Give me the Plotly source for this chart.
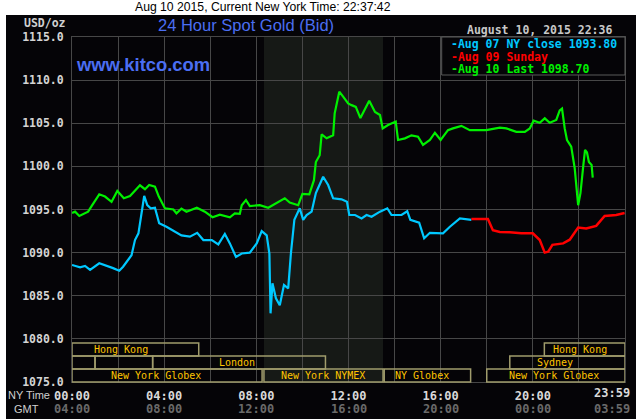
import plotly.graph_objects as go

# ---------------- data ----------------
times_aug07 = ["00:00","00:21","00:34","00:47","01:11","01:34","01:47","02:03","02:13","02:35",
               "02:44","02:53","03:01","03:08","03:16","03:25","03:36","03:47","04:06","04:28",
               "04:45","05:07","05:26","05:42","06:04","06:21","06:38","06:51","07:07","07:22",
               "07:43","08:01","08:14","08:27","08:34","08:37","08:42","08:51","09:01","09:12",
               "09:23","09:30","09:39","09:53","10:02","10:11","10:24","10:35","10:54","11:07",
               "11:20","11:42","11:56","12:02","12:17","12:34","12:47","13:00","13:22","13:41",
               "13:52","14:18","14:33","14:41","15:04","15:17","15:32","16:06","16:24","16:50",
               "17:20"]
price_aug07 = [1088.57,1088.3,1088.45,1088.0,1088.76,1088.45,1088.2,1087.9,1088.37,1089.7,
               1091.46,1092.24,1094.56,1096.57,1095.5,1095.14,1095.2,1093.4,1093.0,1092.4,
               1092.0,1091.85,1092.3,1091.46,1091.46,1090.96,1092.16,1091.07,1089.5,1089.9,
               1090.0,1091.07,1092.5,1092.0,1089.9,1082.96,1086.44,1084.7,1083.9,1086.25,
               1085.86,1089.9,1093.8,1095.14,1093.8,1094.36,1094.75,1096.9,1098.8,1097.84,
               1096.3,1096.18,1095.9,1094.36,1094.36,1093.97,1094.36,1094.16,1094.75,1095.14,
               1094.36,1094.36,1094.8,1093.8,1093.47,1091.66,1092.3,1092.24,1093.0,1093.97,
               1093.8]

times_aug09 = ["17:20","18:03","18:16","18:34","19:00","19:30","20:00","20:18","20:31","20:40",
               "20:51","21:19","21:36","21:58","22:19","22:45","23:07","23:37","23:59"]
price_aug09 = [1093.9,1093.9,1092.6,1092.4,1092.36,1092.24,1092.24,1091.46,1090.0,1090.1,
               1090.9,1091.07,1091.5,1092.9,1092.8,1093.1,1094.25,1094.36,1094.6]

times_aug10 = ["00:00","00:08","00:19","00:42","00:51","01:11","01:26","01:43","01:58","02:15",
               "02:31","02:57","03:10","03:21","03:36","03:46","04:02","04:24","04:32","04:45",
               "04:58","05:25","05:46","06:06","06:25","06:51","07:04","07:17","07:22","07:33",
               "07:43","08:09","08:31","08:48","09:14","09:27","09:49","10:00","10:18","10:30",
               "10:35","10:45","10:50","11:03","11:20","11:24","11:36","11:46","11:59","12:08",
               "12:19","12:31","12:54","13:09","13:22","13:29","13:43","14:03","14:09","14:27",
               "14:44","15:01","15:14","15:32","15:45","16:00","16:19","16:32","16:54","17:16",
               "17:59","18:34","18:51","19:17","19:39","19:52","20:02","20:18","20:31","20:44",
               "21:01","21:10","21:16","21:23","21:29","21:40","21:49","21:58","22:04","22:12",
               "22:16","22:21","22:26","22:33","22:36"]
price_aug10 = [1094.6,1094.75,1094.25,1094.75,1095.4,1096.76,1096.5,1095.9,1097.15,1096.3,
               1096.57,1097.8,1097.35,1097.84,1097.65,1096.5,1095.14,1095.0,1094.56,1095.1,
               1094.75,1095.2,1094.75,1094.1,1094.4,1094.1,1094.56,1094.5,1095.5,1096.1,
               1095.4,1095.5,1095.2,1095.6,1096.3,1095.8,1095.5,1096.8,1096.76,1098.4,
               1100.5,1101.3,1103.7,1103.25,1103.6,1106.15,1108.66,1108.08,1107.3,1107.1,
               1106.9,1105.6,1107.6,1106.3,1105.96,1104.4,1104.8,1105.2,1103.06,1103.25,
               1103.6,1103.44,1102.5,1103.06,1103.9,1103.06,1104.2,1104.4,1104.7,1104.2,
               1104.2,1104.5,1104.4,1104.0,1104.0,1104.4,1105.3,1105.06,1105.57,1105.06,
               1105.38,1106.5,1106.7,1104.4,1103.06,1102.3,1099.8,1095.5,1096.9,1100.36,
               1101.9,1101.6,1100.5,1100.16,1098.7]

series_names = ["Aug 07 NY close 1093.80", "Aug 09 Sunday", "Aug 10 Last 1098.70"]

# trading sessions (hours, New York time)
session_names = ["Hong Kong", "Hong Kong", "", "", "London", "Sydney",
                 "New York Globex", "New York NYMEX", "NY Globex", "New York Globex"]
session_start = [0, 20.5, 0, 1.0, 3.5, 19.0, 0, 8.33, 13.55, 18.0]
session_end = [5.5, 24, 1.0, 3.5, 11.0, 24, 8.25, 13.5, 17.3, 24]
session_row = [0, 0, 1, 1, 1, 1, 2, 2, 2, 2]
session_label_at = [2.13, 22.03, None, None, 7.15, 20.96, 3.66, 10.88, 15.19, 20.94]
nymex_open, nymex_close = 8.33, 13.5

x_tick_hours = [0, 2, 4, 6, 8, 10, 12, 14, 16, 18, 20, 22, 24]
x_tick_ny = ["00:00", "", "04:00", "", "08:00", "", "12:00", "", "16:00", "", "20:00", "", ""]
x_tick_gmt = ["04:00", "", "08:00", "", "12:00", "", "16:00", "", "20:00", "", "00:00", "", "03:59"]
last_ny_label = "23:59"


def hrs(t):
    h, m = t.split(":")
    return int(h) + int(m) / 60.0


# ---------------- layout constants ----------------
W, H = 640, 419
PL, PT, PR, PB = 72, 37, 625, 382          # plot area in window pixels
ML, MT, MR, MB = PL, PT, W - PR, H - PB
PW, PH = PR - PL, PB - PT


def px_x(px):
    return (px - PL) / PW


def px_y(py):
    return (PB - py) / PH


MONO = "DejaVu Sans Mono"
CYAN, RED, GREEN = "#00c8ff", "#ff0000", "#00f000"
GRID = "#474747"
BG = "#050407"

fig = go.Figure()
fig.add_trace(go.Scatter(x=[hrs(t) for t in times_aug07], y=price_aug07, mode="lines",
                         line=dict(color=CYAN, width=2.2), name=series_names[0]))
fig.add_trace(go.Scatter(x=[hrs(t) for t in times_aug09], y=price_aug09, mode="lines",
                         line=dict(color=RED, width=2.5), name=series_names[1]))
fig.add_trace(go.Scatter(x=[hrs(t) for t in times_aug10], y=price_aug10, mode="lines",
                         line=dict(color=GREEN, width=2.2), name=series_names[2]))

shapes = []
# black chart background
shapes.append(dict(type="rect", xref="paper", yref="paper", layer="below",
                   x0=px_x(6), x1=px_x(636), y0=px_y(419), y1=px_y(15),
                   fillcolor=BG, line=dict(width=0)))
# NYMEX shaded hours
shapes.append(dict(type="rect", xref="x", yref="paper", layer="below",
                   x0=nymex_open, x1=nymex_close, y0=0, y1=1,
                   fillcolor="#161916", line=dict(width=0)))
# session boxes
ROW_H = 13 / PH
for name, s, e, r in zip(session_names, session_start, session_end, session_row):
    y0 = (2 - r) * ROW_H
    shapes.append(dict(type="rect", xref="x", yref="paper", layer="above",
                       x0=s, x1=e, y0=y0, y1=y0 + ROW_H,
                       line=dict(color="#a09c6c", width=1.5), fillcolor="rgba(0,0,0,0)"))
# legend box
shapes.append(dict(type="rect", xref="paper", yref="paper", layer="above",
                   x0=px_x(441.7), x1=1.0, y0=px_y(75), y1=1.0,
                   fillcolor=BG, line=dict(color="#5a5a5a", width=1)))

ann = []
for name, lx, r in zip(session_names, session_label_at, session_row):
    if name and lx is not None:
        ann.append(dict(x=lx, y=(2 - r + 0.5) * ROW_H, xref="x", yref="paper", text=name,
                        showarrow=False, font=dict(family=MONO, size=10, color="#ffc400"),
                        xanchor="center", yanchor="middle"))
# legend text
for i, (nm, col) in enumerate(zip(series_names, [CYAN, RED, GREEN])):
    ann.append(dict(x=px_x(449), y=px_y(44 + 12.5 * i), xref="paper", yref="paper",
                    text="-" + nm, showarrow=False, xanchor="left", yanchor="middle",
                    font=dict(family=MONO, size=11.5, color=col, weight="bold")))
# headings
ann.append(dict(x=px_x(262.5), y=px_y(7.5), xref="paper", yref="paper",
                text="Aug 10 2015, Current New York Time: 22:37:42", showarrow=False,
                xanchor="center", yanchor="middle",
                font=dict(family="Liberation Sans", size=12.2, color="#000000")))
ann.append(dict(x=px_x(246), y=px_y(25), xref="paper", yref="paper",
                text="24 Hour Spot Gold (Bid)", showarrow=False, xanchor="center", yanchor="middle",
                font=dict(family="Liberation Sans", size=16.5, color="#4b6ef2")))
ann.append(dict(x=px_x(74), y=px_y(64), xref="paper", yref="paper",
                text="www.kitco.com", showarrow=False, xanchor="left", yanchor="middle",
                font=dict(family="Liberation Sans", size=18.4, color="#4b6ef2", weight="bold")))
ann.append(dict(x=px_x(613.5), y=px_y(30), xref="paper", yref="paper",
                text="August 10, 2015 22:36", showarrow=False, xanchor="right", yanchor="middle",
                font=dict(family=MONO, size=11.5, color="#c8c8c8", weight="bold")))
ann.append(dict(x=px_x(68), y=px_y(23), xref="paper", yref="paper",
                text="USD/oz", showarrow=False, xanchor="right", yanchor="middle",
                font=dict(family=MONO, size=11.5, color="#d0d0d0", weight="bold")))
ann.append(dict(x=px_x(52), y=px_y(395), xref="paper", yref="paper",
                text="NY Time", showarrow=False, xanchor="right", yanchor="middle",
                font=dict(family="Liberation Sans", size=11, color="#d0d0d0")))
ann.append(dict(x=px_x(26.5), y=px_y(408.5), xref="paper", yref="paper",
                text="GMT", showarrow=False, xanchor="center", yanchor="middle",
                font=dict(family="Liberation Sans", size=11, color="#d0d0d0")))
ann.append(dict(x=24, y=px_y(393), xref="x", yref="paper", text=last_ny_label,
                showarrow=False, xanchor="right", yanchor="middle", xshift=7,
                font=dict(family=MONO, size=12, color="#d9d9d9", weight="bold")))
for hx, lab in zip(x_tick_hours, x_tick_gmt):
    if lab:
        ann.append(dict(x=hx, y=px_y(408.5), xref="x", yref="paper", text=lab,
                        showarrow=False, xanchor="right" if hx == 24 else "center",
                        xshift=7 if hx == 24 else 0, yanchor="middle",
                        font=dict(family=MONO, size=12, color="#6a6a6a", weight="bold")))

fig.update_layout(
    width=W, height=H, margin=dict(l=ML, r=MR, t=MT, b=MB, pad=0),
    paper_bgcolor="#ffffff", plot_bgcolor=BG, showlegend=False,
    shapes=shapes, annotations=ann,
    xaxis=dict(range=[0, 24], tickmode="array", tickvals=x_tick_hours, ticktext=x_tick_ny,
               showgrid=True, gridcolor=GRID, gridwidth=1, zeroline=False,
               showline=True, linecolor=GRID, mirror=True, ticks="", ticklabelstandoff=3,
               tickfont=dict(family=MONO, size=12, color="#d9d9d9", weight="bold"),
               fixedrange=True),
    yaxis=dict(range=[1075, 1115], tickmode="linear", tick0=1075, dtick=5, tickformat=".1f",
               showgrid=True, gridcolor=GRID, gridwidth=1, zeroline=False,
               showline=True, linecolor=GRID, mirror=True, ticks="", ticklabelstandoff=5,
               tickfont=dict(family=MONO, size=11.5, color="#d4d4d4", weight="bold"),
               fixedrange=True),
)

# remove the browser's default 8px page margin so the figure fills the window exactly
fig.write_html("out.html", config={"displayModeBar": False},
               post_script="document.body.style.margin='0';")
